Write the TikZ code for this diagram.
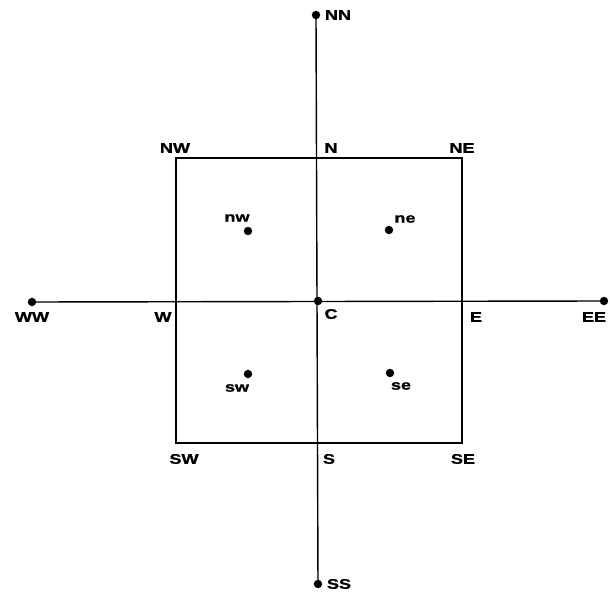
\documentclass[tikz,border=0pt]{standalone}
\usepackage{fontspec}
\usepackage{tikz}
\usetikzlibrary{positioning}
\newfontfamily\lblfont[FakeStretch=1.3, FakeBold=1.2]{Liberation Sans}

\tikzset{
  pt/.style={circle, fill=black, inner sep=0pt, minimum size=4.8pt},
  lbl/.style={font=\lblfont\bfseries\fontsize{7.9}{9}\selectfont, inner sep=0pt},
}

\begin{document}
\begin{tikzpicture}[x=0.02cm, y=-0.02cm, line width=0.8pt]
  \useasboundingbox (0,0) rectangle (610,595);
  % corners and mid points of the square
  \coordinate (NW) at (176,158);
  \coordinate (NE) at (462,158);
  \coordinate (SW) at (176,443);
  \coordinate (SE) at (462,443);
  \coordinate (N) at (318,158);
  \coordinate (S) at (318,443);
  \coordinate (W) at (176,301);
  \coordinate (E) at (462,301);
  % outer points
  \node[pt] (NN) at (316,15) {};
  \node[pt] (SS) at (318,584) {};
  \node[pt] (WW) at (32,302) {};
  \node[pt] (EE) at (604,301) {};
  \node[pt] (C) at (318,301) {};
  % quadrant points
  \node[pt] (nw) at (248,231) {};
  \node[pt] (ne) at (389,230) {};
  \node[pt] (sw) at (248,374) {};
  \node[pt] (se) at (390,373) {};

  \draw (NW) rectangle (SE);
  \draw (NN.center) -- (SS.center);
  \draw (WW.center) -- (EE.center);

  % labels
  \node[lbl] (lNN) at (338,15) {NN};
  \node[lbl] (lNW) at (175,148) {NW};
  \node[lbl] (lN) at (331,148) {N};
  \node[lbl] (lNE) at (462,148) {NE};
  \node[lbl] (lnw) at (237,218) {nw};
  \node[lbl] (lne) at (405,219) {ne};
  \node[lbl] (lWW) at (32,317) {WW};
  \node[lbl] (lW) at (163,317) {W};
  \node[lbl] (lC) at (331,314) {C};
  \node[lbl] (lE) at (476,317) {E};
  \node[lbl] (lEE) at (594,317) {EE};
  \node[lbl] (lsw) at (237,388) {sw};
  \node[lbl] (lse) at (401,386) {se};
  \node[lbl] (lSW) at (184,459) {SW};
  \node[lbl] (lS) at (329,459) {S};
  \node[lbl] (lSE) at (463,459) {SE};
  \node[lbl] (lSS) at (339,584) {SS};
\end{tikzpicture}
\end{document}
